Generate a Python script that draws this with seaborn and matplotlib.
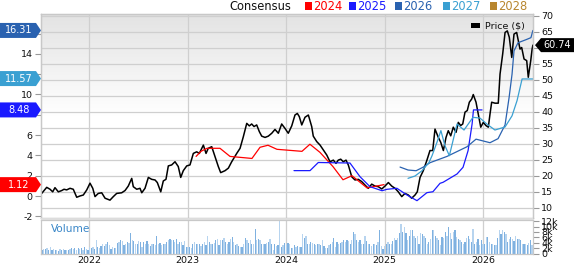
import numpy as np
import matplotlib
matplotlib.use("Agg")
import matplotlib.pyplot as plt
import seaborn as sns
from matplotlib.patches import Polygon, Rectangle

# ---------------- data (decimal years) ----------------
price_t = [2021.516, 2021.567, 2021.601, 2021.628, 2021.651, 2021.685, 2021.720, 2021.743, 2021.770, 2021.804,
           2021.837, 2021.872, 2021.905, 2021.939, 2021.974, 2022.007, 2022.035, 2022.058, 2022.091, 2022.126,
           2022.160, 2022.210, 2022.244, 2022.278, 2022.329, 2022.363, 2022.396, 2022.431, 2022.447, 2022.482,
           2022.515, 2022.533, 2022.566, 2022.600, 2022.634, 2022.668, 2022.691, 2022.726, 2022.752, 2022.779,
           2022.803, 2022.837, 2022.871, 2022.904, 2022.929, 2022.955, 2022.990, 2023.023, 2023.057, 2023.091,
           2023.118, 2023.159, 2023.186, 2023.209, 2023.244, 2023.277, 2023.311, 2023.335, 2023.379, 2023.413,
           2023.447, 2023.498, 2023.532, 2023.565, 2023.600, 2023.626, 2023.650, 2023.674, 2023.701, 2023.728,
           2023.752, 2023.786, 2023.819, 2023.854, 2023.887, 2023.921, 2023.955, 2023.989, 2024.022, 2024.057,
           2024.090, 2024.114, 2024.134, 2024.159, 2024.192, 2024.226, 2024.260, 2024.276, 2024.311, 2024.345,
           2024.378, 2024.413, 2024.446, 2024.480, 2024.507, 2024.530, 2024.555, 2024.581, 2024.609, 2024.632,
           2024.667, 2024.700, 2024.734, 2024.768, 2024.802, 2024.835, 2024.870, 2024.903, 2024.937, 2024.972,
           2025.005, 2025.039, 2025.073, 2025.107, 2025.140, 2025.175, 2025.208, 2025.242, 2025.276, 2025.310,
           2025.333, 2025.361, 2025.394, 2025.429, 2025.462, 2025.490, 2025.513, 2025.547, 2025.571, 2025.598,
           2025.625, 2025.648, 2025.673, 2025.699, 2025.727, 2025.750, 2025.774, 2025.795, 2025.818, 2025.841,
           2025.862, 2025.886, 2025.902, 2025.930, 2025.953, 2025.978, 2026.004, 2026.031, 2026.055, 2026.072,
           2026.089, 2026.123, 2026.156, 2026.174, 2026.201, 2026.225, 2026.248, 2026.268, 2026.293, 2026.316,
           2026.343, 2026.360, 2026.377, 2026.394, 2026.418, 2026.445, 2026.461, 2026.486, 2026.500, 2026.508]
price_v = [14.4, 16.3, 15.7, 14.9, 16.2, 14.9, 15.3, 15.7, 15.5, 16.0,
           15.7, 13.2, 13.6, 13.9, 15.5, 17.6, 16.0, 13.4, 14.4, 14.6,
           12.9, 12.3, 13.4, 14.4, 14.6, 15.3, 16.7, 19.1, 16.5, 15.7,
           16.0, 14.6, 16.0, 19.4, 18.8, 18.6, 17.8, 14.9, 18.3, 18.8,
           23.0, 23.3, 24.3, 22.8, 19.4, 21.5, 23.0, 23.3, 26.9, 27.4,
           26.9, 29.5, 26.9, 28.5, 29.0, 25.9, 22.8, 20.9, 21.5, 22.3,
           24.3, 26.9, 28.5, 32.1, 36.3, 35.5, 36.1, 35.3, 35.8, 33.7,
           32.3, 31.9, 32.3, 33.2, 34.4, 33.2, 36.1, 34.7, 33.2, 35.5,
           38.9, 39.4, 38.4, 35.8, 38.2, 38.9, 35.3, 32.3, 30.6, 29.5,
           28.0, 26.4, 24.3, 24.8, 23.8, 24.8, 25.1, 24.3, 24.8, 23.3,
           19.6, 18.6, 18.8, 18.1, 17.0, 16.0, 17.3, 16.7, 16.5, 15.8,
           16.7, 17.8, 16.7, 16.0, 14.9, 13.4, 14.4, 13.9, 12.9, 13.9,
           14.9, 19.4, 21.5, 24.6, 27.8, 27.8, 34.5, 31.9, 30.4, 27.8,
           31.9, 34.0, 32.4, 35.1, 33.5, 36.6, 35.6, 36.1, 39.8, 40.3,
           42.9, 43.9, 45.3, 42.9, 39.2, 35.1, 36.6, 35.6, 35.1, 39.2,
           42.9, 42.6, 42.6, 51.7, 58.0, 64.7, 65.2, 63.2, 56.9, 64.2,
           64.7, 62.1, 59.5, 60.0, 56.4, 55.9, 50.7, 55.9, 59.5, 60.74]

eps24_t = [2023.085, 2023.135, 2023.196, 2023.328, 2023.430, 2023.653, 2023.735, 2023.816, 2023.907,
           2024.161, 2024.242, 2024.344, 2024.476, 2024.578, 2024.669, 2024.822, 2024.995]
eps24_v = [3.9, 4.4, 4.7, 4.7, 3.9, 3.7, 4.8, 5.0, 4.6, 4.4, 5.1, 4.3, 2.9, 1.6, 2.0, 0.8, 1.12]

eps25_t = [2024.080, 2024.243, 2024.327, 2024.649, 2024.751, 2024.852, 2024.975, 2025.025, 2025.126,
           2025.228, 2025.330, 2025.431, 2025.492, 2025.564, 2025.595, 2025.737, 2025.798, 2025.849,
           2025.890, 2025.904, 2025.991]
eps25_v = [2.5, 2.5, 3.3, 3.25, 1.9, 0.92, 0.52, 0.66, 0.76, 0.10, -0.46, 0.33, 0.42, 1.25, 1.35,
           2.17, 2.83, 4.46, 7.09, 8.48, 8.48]

eps26_t = [2025.158, 2025.239, 2025.321, 2025.391, 2025.462, 2025.635, 2025.838, 2025.930, 2026.072,
           2026.154, 2026.225, 2026.266, 2026.296, 2026.316, 2026.357, 2026.438, 2026.488, 2026.508]
eps26_v = [2.85, 2.56, 2.49, 2.83, 3.28, 3.9, 4.85, 5.6, 5.25, 5.65, 7.0, 9.7, 12.0, 14.3, 15.1, 15.4,
           15.6, 16.31]

eps27_t = [2025.239, 2025.310, 2025.381, 2025.452, 2025.483, 2025.533, 2025.573, 2025.614, 2025.659,
           2025.737, 2025.808, 2025.899, 2025.970, 2026.040, 2026.122, 2026.225, 2026.296, 2026.347,
           2026.398, 2026.508]
eps27_v = [1.74, 1.97, 2.49, 3.3, 3.97, 5.29, 6.44, 4.96, 3.97, 7.09, 6.5, 7.75, 7.68, 7.09, 6.5, 6.8,
           7.9, 9.4, 11.53, 11.53]

# weekly volume, thousands of shares
vol_k = [1.5, 1.8, 1.6, 2.2, 1.5, 2.4, 1.5, 1.7, 1.5, 1.2, 1.0, 1.7, 1.5, 1.6, 1.5, 1.2, 1.5, 1.7, 2.2, 1.7,
         2.0, 1.5, 2.2, 1.7, 2.0, 1.5, 2.4, 1.7, 1.2, 2.4, 2.2, 2.4, 1.8, 5.1, 2.4, 2.2, 2.7, 3.4, 2.7, 3.7,
         4.3, 3.1, 1.8, 2.4, 2.2, 2.2, 3.9, 4.3, 5.1, 4.7, 3.1, 3.7, 4.3, 3.9, 7.6, 4.9, 4.7, 3.7, 3.7, 4.7,
         4.3, 2.4, 4.3, 3.4, 4.7, 3.7, 2.7, 3.7, 3.7, 3.1, 6.7, 3.4, 3.9, 3.1,
         3.7, 3.4, 4.3, 4.9, 5.5, 5.1, 4.9, 4.3, 5.4, 3.7, 4.4, 4.2, 3.2, 4.7, 2.4, 2.4, 2.4, 2.0, 3.7, 4.3,
         3.4, 3.7, 3.7, 2.7, 3.7, 4.3, 3.1, 6.7, 4.3, 3.7, 3.4, 3.9, 4.9, 5.5, 3.1, 4.9, 4.9, 5.9, 4.3, 3.4,
         4.3, 5.5, 6.1, 4.3, 3.1, 3.4, 2.7, 2.4, 2.4, 3.7, 5.9, 5.1, 3.9, 4.9, 3.7, 3.7, 9.2, 4.9, 5.5, 5.1,
         3.4, 3.4, 3.4, 3.9, 4.3, 5.5, 3.7, 1.2, 3.4, 2.7, 3.1, 12.0, 2.4, 3.1, 3.9, 3.7,
         3.9, 3.4, 2.2, 2.2, 3.1, 2.4, 2.7, 2.4, 2.4, 7.1, 5.9, 6.4, 3.4, 3.7, 4.3, 3.9, 3.7, 3.1, 3.4, 3.4,
         3.1, 4.9, 2.7, 2.2, 2.2, 3.1, 3.4, 4.3, 5.9, 2.4, 4.3, 3.7, 3.9, 4.3, 4.9, 4.3, 5.1, 4.7, 3.7, 4.9,
         8.0, 7.1, 5.1, 4.3, 4.9, 3.4, 3.7, 6.7, 4.7, 3.7, 3.4, 2.7, 3.7, 3.7, 3.1, 4.3, 8.6, 2.7, 1.8, 2.7,
         3.7, 4.3, 3.4, 3.4, 4.7, 5.9, 4.9, 5.9, 7.6, 10.8, 8.0, 9.8, 7.6, 4.9, 6.7, 8.6,
         8.6, 6.7, 5.9, 6.4, 3.7, 7.6, 7.3, 6.7, 5.9, 3.7, 4.3, 5.5, 8.6, 8.6, 6.4, 5.9, 4.9, 3.1, 6.1, 5.9,
         8.0, 6.7, 10.0, 7.6, 5.5, 8.0, 8.6, 6.1, 5.5, 4.9, 4.3, 3.4, 4.3, 5.9, 6.7, 5.5, 4.3, 9.2, 3.7, 4.3,
         5.5, 3.1, 4.9, 3.4, 3.7, 6.1, 6.1, 4.3, 3.7, 3.4, 3.1, 3.1, 5.9, 8.6, 7.3, 8.6, 8.0, 7.3, 4.3, 5.5,
         6.1, 5.5, 4.7, 6.7, 5.5, 5.5, 4.9, 3.7, 3.7, 3.4, 3.1, 3.9, 4.9, 3.1]
vol_start, vol_end = 2021.52, 2026.50

years = [2022, 2023, 2024, 2025, 2026]
year_labels = ["2022", "2023", "2024", "2025", "2026"]
legend_years = ["2024", "2025", "2026", "2027", "2028"]
eps_ticks = [-2, 0, 2, 4, 6, 8, 10, 12, 14, 16]
eps_tick_labels = ["-2", "0", "2", "4", "6", "", "10", "12", "14", ""]       # 8 and 16 sit under the tags
price_ticks = [10, 15, 20, 25, 30, 35, 40, 45, 50, 55, 60, 65, 70]
price_tick_labels = ["10", "15", "20", "25", "30", "35", "40", "45", "50", "55", "", "65", "70"]  # 60 under tag
vol_ticks = [0, 2, 4, 6, 8, 10, 12]
vol_tick_labels = ["0", "2k", "4k", "6k", "8k", "10k", "12k"]
last_price = 60.74
eps_labels = [16.31, 11.57, 8.48, 1.12]

# ---------------- styling ----------------
C24, C25, C26, C27, C28 = "#ff0000", "#1a1aff", "#2a62b0", "#3aa0d2", "#b8862e"
GRID = "#cfcfcf"

sns.set_theme(style="white")
plt.rcParams['font.family'] = ['DejaVu Sans']

W, H = 574, 264
fig = plt.figure(figsize=(W / 100, H / 100), dpi=100)
fig.patch.set_facecolor("white")

L, R = 41, 533
TOP, PBOT, VTOP, VBOT = 14, 217.5, 220, 254
ax_p = fig.add_axes([L / W, 1 - PBOT / H, (R - L) / W, (PBOT - TOP) / H])
ax_v = fig.add_axes([L / W, 1 - VBOT / H, (R - L) / W, (VBOT - VTOP) / H], sharex=ax_p)

XMIN, XMAX = 2021.509, 2026.509
P_LIM = (6.875, 70.47)
E_LIM = (-2.118, 17.93)

# background gradient of the price panel
n = 120
frac = np.linspace(0, 1, n)
shade = 0.89 + 0.11 * np.clip(frac / 0.5, 0, 1)
grad = np.repeat(shade[:, None, None], 3, axis=2)
ax_p.imshow(grad, extent=[XMIN, XMAX, P_LIM[0], P_LIM[1]], aspect="auto", zorder=0, origin="upper")

sns.lineplot(x=price_t, y=price_v, ax=ax_p, color="black", lw=1.1, zorder=3)
ax_p.set_xlim(XMIN, XMAX)
ax_p.set_ylim(*P_LIM)
ax_p.set_xticks(years)
ax_p.set_yticks(price_ticks)
ax_p.set_yticklabels(price_tick_labels)
ax_p.grid(True, color=GRID, lw=0.9)
ax_p.set_axisbelow(True)
ax_p.set_xlabel("")
ax_p.set_ylabel("")

ax_e = ax_p.twinx()
for tt, vv, cc in [(eps24_t, eps24_v, C24), (eps25_t, eps25_v, C25),
                   (eps26_t, eps26_v, C26), (eps27_t, eps27_v, C27)]:
    sns.lineplot(x=tt, y=vv, ax=ax_e, color=cc, lw=0.9, zorder=2)
ax_e.set_ylim(*E_LIM)
ax_e.set_xlim(XMIN, XMAX)
ax_e.set_yticks(eps_ticks)
ax_e.set_yticklabels(eps_tick_labels)
ax_e.set_ylabel("")

# price ticks on the right, EPS ticks on the left (after twinx)
ax_p.yaxis.tick_right()
ax_e.yaxis.tick_left()
ax_p.tick_params(axis="x", length=0, labelbottom=False)
ax_p.tick_params(axis="y", left=False, labelleft=False, right=True, labelright=True,
                 length=4, width=0.8, color="#999999", labelsize=6.8, pad=2, labelcolor="#111111")
ax_e.tick_params(axis="y", right=False, labelright=False, left=True, labelleft=True,
                 length=4, width=0.8, color="#999999", labelsize=6.8, pad=2, labelcolor="#111111")

for a in (ax_p, ax_e, ax_v):
    for s in a.spines.values():
        s.set_color("#c8c8c8")
        s.set_linewidth(0.9)

# volume panel
vol_t = np.linspace(vol_start, vol_end, len(vol_k))
vcolors = ["#7fb1e0" if i % 2 == 0 else "#b7d4ef" for i in range(len(vol_k))]
ax_v.bar(vol_t, vol_k, width=0.0125, color=vcolors, linewidth=0, zorder=2)
ax_v.set_ylim(-0.1, 12.4)
ax_v.set_xlim(XMIN, XMAX)
ax_v.set_xticks(years)
ax_v.set_xticklabels(year_labels)
ax_v.set_yticks(vol_ticks)
ax_v.set_yticklabels(vol_tick_labels)
ax_v.yaxis.tick_right()
ax_v.grid(True, axis="x", color=GRID, lw=0.9)
ax_v.set_axisbelow(True)
ax_v.tick_params(axis="x", length=0, labelsize=6.8, pad=1.5, labelcolor="#111111")
ax_v.tick_params(axis="y", length=4, width=0.8, color="#999999", labelsize=6.8, pad=2, labelcolor="#111111")

# ---------------- overlay (pixel coordinates, y up) ----------------
ov = fig.add_axes([0, 0, 1, 1], zorder=10)
ov.set_xlim(0, W)
ov.set_ylim(0, H)
ov.axis("off")
ov.patch.set_alpha(0)

fig.canvas.draw()

# separator band between panels
ov.add_patch(Rectangle((L, H - VTOP), R - L, VTOP - PBOT, color="#dddddd", lw=0))

# top legend
ov.text(229, H - 6, "Consensus", fontsize=8.3, color="#111111", va="center", ha="left")
lx = [305, 349, 395, 443, 490]
for x0, lab, col in zip(lx, legend_years, [C24, C25, C26, C27, C28]):
    ov.add_patch(Rectangle((x0, H - 9.5), 6.5, 7.5, color=col, lw=0))
    ov.text(x0 + 8.5, H - 6, lab, fontsize=8.3, color=col, va="center", ha="left")

# price legend inside the chart
ov.add_patch(Rectangle((471, H - 28), 9, 5, color="black", lw=0))
ov.text(485, H - 25.5, "Price ($)", fontsize=6.8, color="#111111", va="center", ha="left")

# Volume label
ov.text(51, H - 229, "Volume", fontsize=7.6, color="#3a87c8", va="center", ha="left")

# left EPS tags
for v, col in zip(eps_labels, [C26, C27, C25, C24]):
    y = ax_e.transData.transform((XMIN, v))[1]
    pts = [(0, y - 7.5), (36, y - 7.5), (41, y), (36, y + 7.5), (0, y + 7.5)]
    ov.add_patch(Polygon(pts, closed=True, color=col, lw=0))
    ov.text(19, y, f"{v:.2f}", fontsize=7, color="white", va="center", ha="center")

# right price tag
y = ax_p.transData.transform((XMIN, last_price))[1]
pts = [(535, y), (541, y - 7), (574, y - 7), (574, y + 7), (541, y + 7)]
ov.add_patch(Polygon(pts, closed=True, color="black", lw=0))
ov.text(557.5, y, f"{last_price:.2f}", fontsize=7, color="white", va="center", ha="center")

fig.savefig("out.png", dpi=100)
